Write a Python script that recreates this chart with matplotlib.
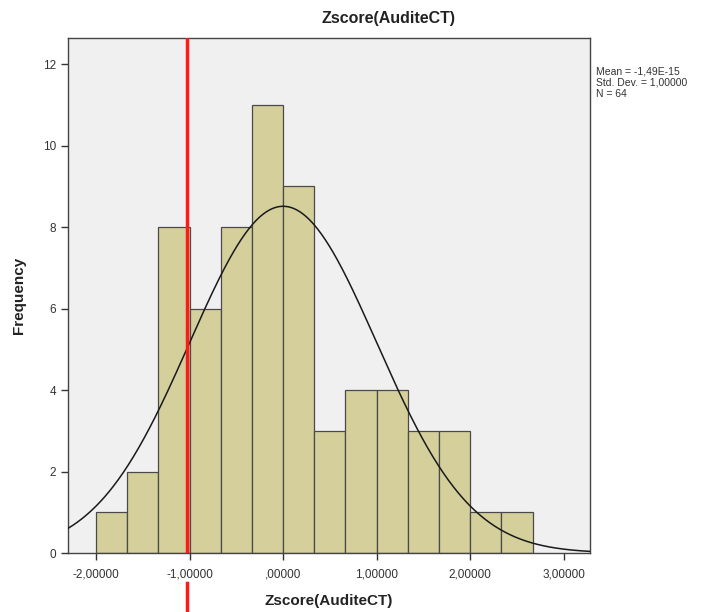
import numpy as np
import matplotlib
matplotlib.use("Agg")
import matplotlib.pyplot as plt
from matplotlib.lines import Line2D

plt.rcParams['font.family'] = ['Liberation Sans', 'DejaVu Sans']

# Data
bin_start = -2.0
bin_width = 0.3333
counts = [1, 2, 8, 6, 8, 11, 9, 3, 4, 4, 3, 3, 1, 1]
x_ticks = [-2, -1, 0, 1, 2, 3]
x_tick_labels = ["-2,00000", "-1,00000", ",00000", "1,00000", "2,00000", "3,00000"]
y_ticks = [0, 2, 4, 6, 8, 10, 12]
mean_val = 0.0
sd_val = 1.0
n_val = 64
red_line_x = -1.03
stats_text = "Mean = -1,49E-15\nStd. Dev. = 1,00000\nN = 64"
title = "Zscore(AuditeCT)"

fig = plt.figure(figsize=(7.21, 6.12), dpi=100)
ax = fig.add_axes([0.0943, 0.0964, 0.724, 0.8415])
ax.set_facecolor('#f0f0f0')

edges = bin_start + bin_width * np.arange(len(counts) + 1)
ax.bar(edges[:-1], counts, width=bin_width, align='edge',
       color='#d4cf9b', edgecolor='#4a4a4a', linewidth=0.9, zorder=2)

xs = np.linspace(-2.3, 3.3, 400)
ys = n_val * bin_width * np.exp(-0.5 * ((xs - mean_val) / sd_val) ** 2) / (sd_val * np.sqrt(2 * np.pi))
ax.plot(xs, ys, color='#1a1a1a', linewidth=1.1, zorder=3)

ax.set_xlim(-2.30, 3.28)
ax.set_ylim(0, 12.64)
ax.set_xticks(x_ticks)
ax.set_xticklabels(x_tick_labels)
ax.set_yticks(y_ticks)
ax.tick_params(axis='both', direction='out', length=5, width=1, colors='#333333',
               labelsize=8.5, labelcolor='#333333')
ax.tick_params(axis='x', pad=6)
for s in ax.spines.values():
    s.set_color('#444444')
    s.set_linewidth(1)

# Red reference line
ax.axvline(red_line_x, color='#ff1a1a', linewidth=2.5, zorder=4)
tr = ax.get_xaxis_transform()
ax.add_line(Line2D([red_line_x, red_line_x], [-0.058, -0.12], transform=tr,
                   color='#ff1a1a', linewidth=2.5, clip_on=False))

fig.text(389 / 721, 1 - 18 / 612, title, fontsize=11.5, fontweight='bold',
         color='#222222', ha='center', va='center')
fig.text(329 / 721, 1 - 601 / 612, title, fontsize=11, fontweight='bold',
         color='#222222', ha='center', va='center')
ax.set_ylabel("Frequency", fontsize=11, fontweight='bold', color='#222222', labelpad=12)

fig.text(0.827, 1 - 67 / 612, stats_text, fontsize=7.5, va='top', ha='left',
         color='#333333', linespacing=1.1)

fig.savefig("out.png", dpi=100)
